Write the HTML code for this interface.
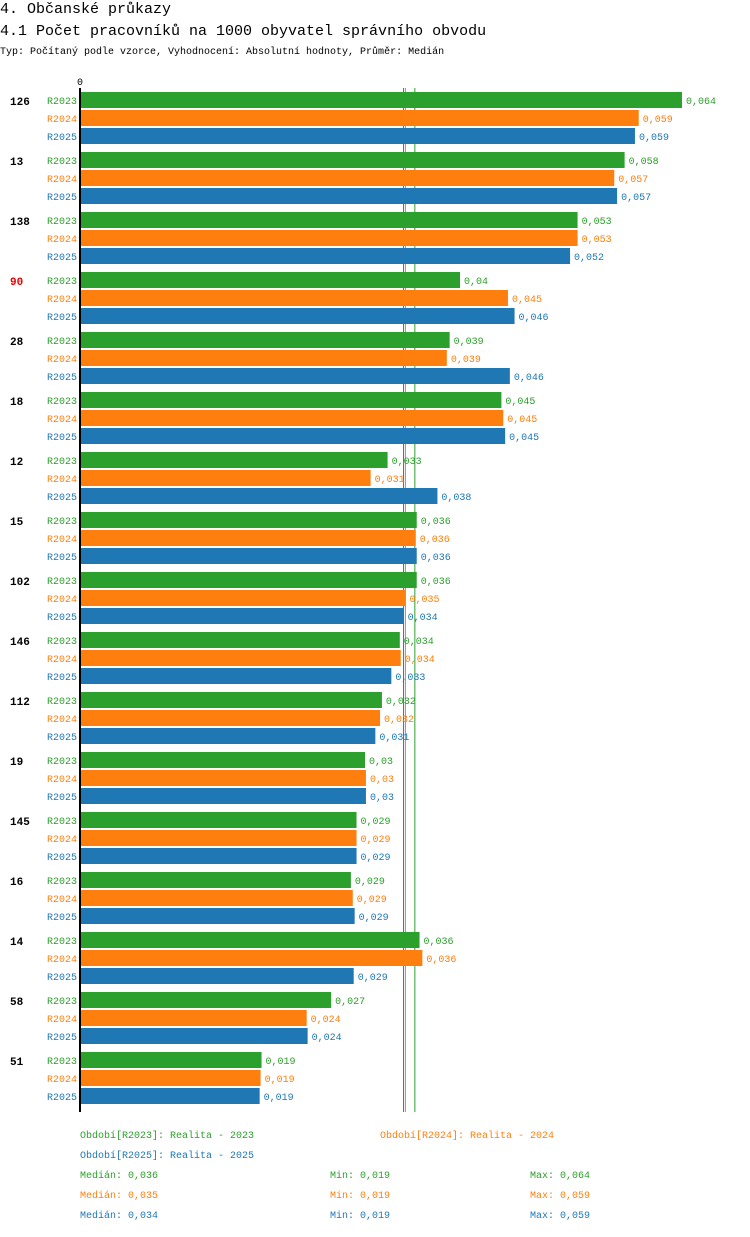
<!DOCTYPE html>
<html><head><meta charset="utf-8"><style>
body{margin:0;background:#fff;font-family:"Liberation Mono","DejaVu Sans Mono",monospace;}
svg text{font-family:"Liberation Mono","DejaVu Sans Mono",monospace;}
</style></head><body>
<svg id="chart" width="750" height="1232" xmlns="http://www.w3.org/2000/svg">
<text x="0" y="13" font-size="15" fill="#000">4. Občanské průkazy</text>
<text x="0" y="35" font-size="15" fill="#000">4.1 Počet pracovníků na 1000 obyvatel správního obvodu</text>
<text x="0" y="54" font-size="10" fill="#000">Typ: Počítaný podle vzorce, Vyhodnocení: Absolutní hodnoty, Průměr: Medián</text>
<text x="80" y="85" font-size="10" text-anchor="middle" fill="#000">0</text>
<g id="lines"></g><g id="bars"></g>
<line x1="80" y1="88" x2="80" y2="1112" stroke="#000" stroke-width="2"/>
<g font-size="10">
<text x="80" y="1138" fill="#2ca02c">Období[R2023]: Realita - 2023</text>
<text x="380" y="1138" fill="#ff7f0e">Období[R2024]: Realita - 2024</text>
<text x="80" y="1158" fill="#1f77b4">Období[R2025]: Realita - 2025</text>
<text x="80" y="1178" fill="#2ca02c">Medián: 0,036</text>
<text x="330" y="1178" fill="#2ca02c">Min: 0,019</text>
<text x="530" y="1178" fill="#2ca02c">Max: 0,064</text>
<text x="80" y="1198" fill="#ff7f0e">Medián: 0,035</text>
<text x="330" y="1198" fill="#ff7f0e">Min: 0,019</text>
<text x="530" y="1198" fill="#ff7f0e">Max: 0,059</text>
<text x="80" y="1218" fill="#1f77b4">Medián: 0,034</text>
<text x="330" y="1218" fill="#1f77b4">Min: 0,019</text>
<text x="530" y="1218" fill="#1f77b4">Max: 0,059</text>
</g>
</svg>
<script>
const categories=["126","13","138","90","28","18","12","15","102","146","112","19","145","16","14","58","51"];
const r2023=[.0640,.0579,.0529,.0404,.0393,.0448,.0327,.0358,.0358,.0340,.0321,.0303,.0294,.0288,.0361,.0267,.0193];
const r2024=[.0594,.0568,.0529,.0455,.0390,.0450,.0309,.0357,.0346,.0341,.0319,.0304,.0294,.0290,.0364,.0241,.0192];
const r2025=[.0590,.0571,.0521,.0462,.0457,.0452,.0380,.0358,.0344,.0331,.0314,.0304,.0294,.0292,.0291,.0242,.0191];
const medians=[.0356,.0346,.0344];
const seriesNames=["R2023","R2024","R2025"];
const colors=["#2ca02c","#ff7f0e","#1f77b4"];
const highlighted=["90"];
const NS="http://www.w3.org/2000/svg";
const x=v=>80+v*9406;
const yGroup=i=>92+i*60;
const bars=document.getElementById('bars'),lines=document.getElementById('lines');
function mk(tag,attrs,parent){const e=document.createElementNS(NS,tag);for(const k in attrs)e.setAttribute(k,attrs[k]);parent.appendChild(e);return e;}
const fmt=v=>{let s=v.toFixed(3).replace(/0+$/,'').replace(/\.$/,'');return s.replace('.',',');};
[2,1,0].forEach(s=>{
  const l=mk('line',{x1:x(medians[s]),x2:x(medians[s]),y1:88,y2:1112,stroke:colors[s],'stroke-width':1},lines);
  
  
});
const series=[r2023,r2024,r2025];
categories.forEach((c,i)=>{
  const y0=yGroup(i);
  const hl=highlighted.includes(c);
  const t=mk('text',{x:10,y:y0+13,'font-size':11,'font-weight':'bold',fill:hl?'#e00':'#000'},bars);
  t.textContent=c;
  
  
  series.forEach((arr,s)=>{
    const y=y0+s*18;
    const lb=mk('text',{x:77,y:y+12,'font-size':10,'text-anchor':'end',fill:colors[s]},bars);
    lb.textContent=seriesNames[s];
    
    
    const r=mk('rect',{x:81,y:y,width:Math.max(0,x(arr[i])-81),height:16,fill:colors[s]},bars);
    
    
    const v=mk('text',{x:x(arr[i])+4,y:y+12,'font-size':10,fill:colors[s]},bars);
    v.textContent=fmt(arr[i]);
    
    
  });
});
</script>
</body></html>
